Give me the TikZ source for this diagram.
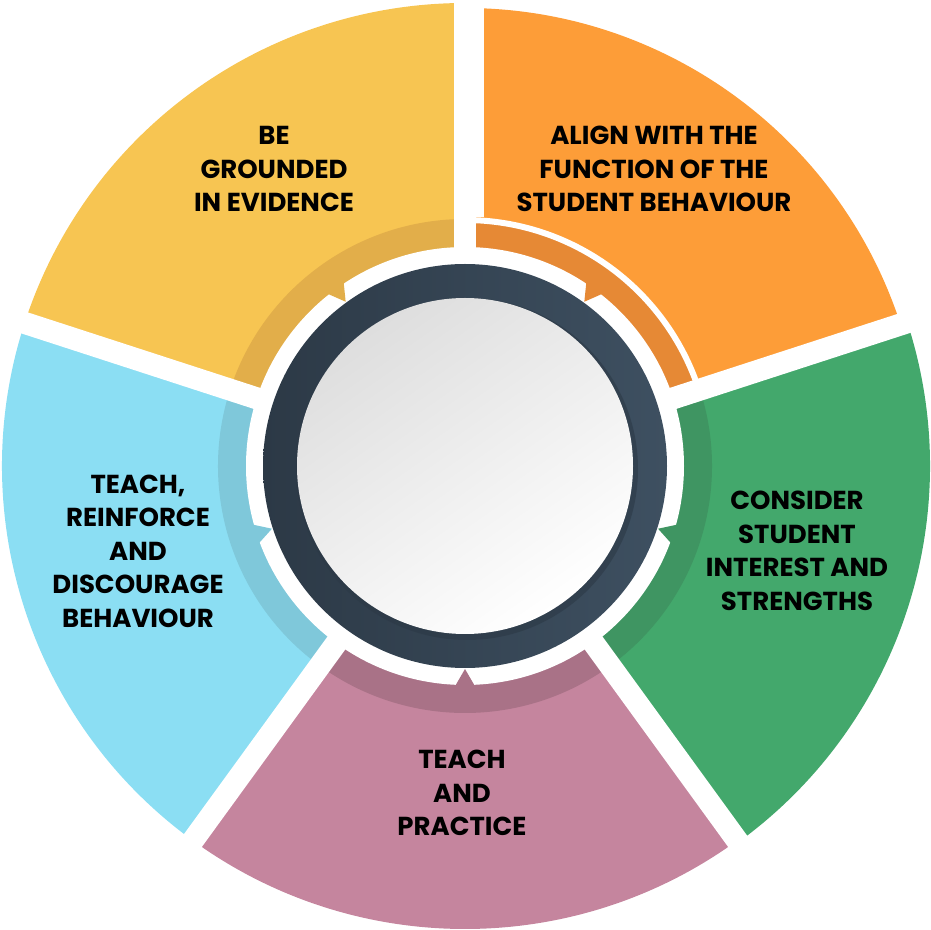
\documentclass[tikz,border=0pt]{standalone}
\usepackage{fontspec}
\setmainfont{Poppins}
\usetikzlibrary{positioning}
\definecolor{evidyellow}{RGB}{247,197,82}
\definecolor{evidband}{RGB}{226,174,74}
\definecolor{alignorange}{RGB}{253,157,56}
\definecolor{alignband}{RGB}{230,137,53}
\definecolor{strengthgreen}{RGB}{67,168,108}
\definecolor{strengthband}{RGB}{63,149,98}
\definecolor{practicepink}{RGB}{197,133,158}
\definecolor{practiceband}{RGB}{169,114,135}
\definecolor{reinforceblue}{RGB}{139,222,243}
\definecolor{reinforceband}{RGB}{127,200,218}
\definecolor{ringnavy}{RGB}{62,80,97}
\definecolor{ringdark}{RGB}{44,57,70}
\tikzset{
  seglabel/.style={align=center, inner sep=0pt,
    font=\bfseries\fontsize{26}{33.5}\selectfont},
  gapline/.style={white, line width=22pt},
}

\begin{document}
\begin{tikzpicture}[x=1pt, y=1pt]
  \useasboundingbox (0,0) rectangle (930,930);
  \coordinate (hub) at (465,464);
  \foreach \from/\body/\band/\outer in {90/evidyellow/evidband/463,
      162/reinforceblue/reinforceband/463, 234/practicepink/practiceband/463,
      306/strengthgreen/strengthband/465, 18/alignorange/alignband/458}{
    \fill[\body] (hub) -- ++(\from:\outer) arc[start angle=\from, delta angle=72, radius=\outer] -- cycle;
    \fill[\band] (hub) -- ++(\from:247) arc[start angle=\from, delta angle=72, radius=247] -- cycle;
  }
  \draw[white, line width=6pt] ([shift={(18:246)}]hub) arc[start angle=18, end angle=90, radius=246];
  \fill[white] (hub) circle[radius=219];
  \foreach \mid/\band in {126/evidband, 198/reinforceband, 270/practiceband,
      342/strengthband, 54/alignband}{
    \fill[\band] ([shift={(\mid-2.8:222)}]hub) -- ([shift={(\mid:203)}]hub)
      -- ([shift={(\mid+2.8:222)}]hub) -- cycle;
  }
  \foreach \a in {18,90,162,234,306}{
    \draw[gapline] (hub) -- ++(\a:480);
  }
  \fill[white] ([shift={(10,249)}]hub) rectangle ([shift={(19,470)}]hub);
  \shade[left color=ringdark, right color=ringnavy] (hub) circle[radius=202];
  \fill[ringdark, opacity=0.6] ([shift={(2,-3)}]hub) circle[radius=171];
  \shade[top color=black!13, bottom color=white, shading angle=35]
    (hub) circle[radius=168];

  \node[seglabel] (evidence) at (274,761) {BE\\GROUNDED\\IN EVIDENCE};
  \node[seglabel] (function) at (654,761) {ALIGN WITH THE\\FUNCTION OF THE\\STUDENT BEHAVIOUR};
  \node[seglabel] (strengths) at (797,379) {CONSIDER\\STUDENT\\INTEREST AND\\STRENGTHS};
  \node[seglabel] (reinforce) at (138,379) {TEACH,\\REINFORCE\\AND\\DISCOURAGE\\BEHAVIOUR};
  \node[seglabel] (practice) at (462,137) {TEACH\\AND\\PRACTICE};
\end{tikzpicture}
\end{document}
